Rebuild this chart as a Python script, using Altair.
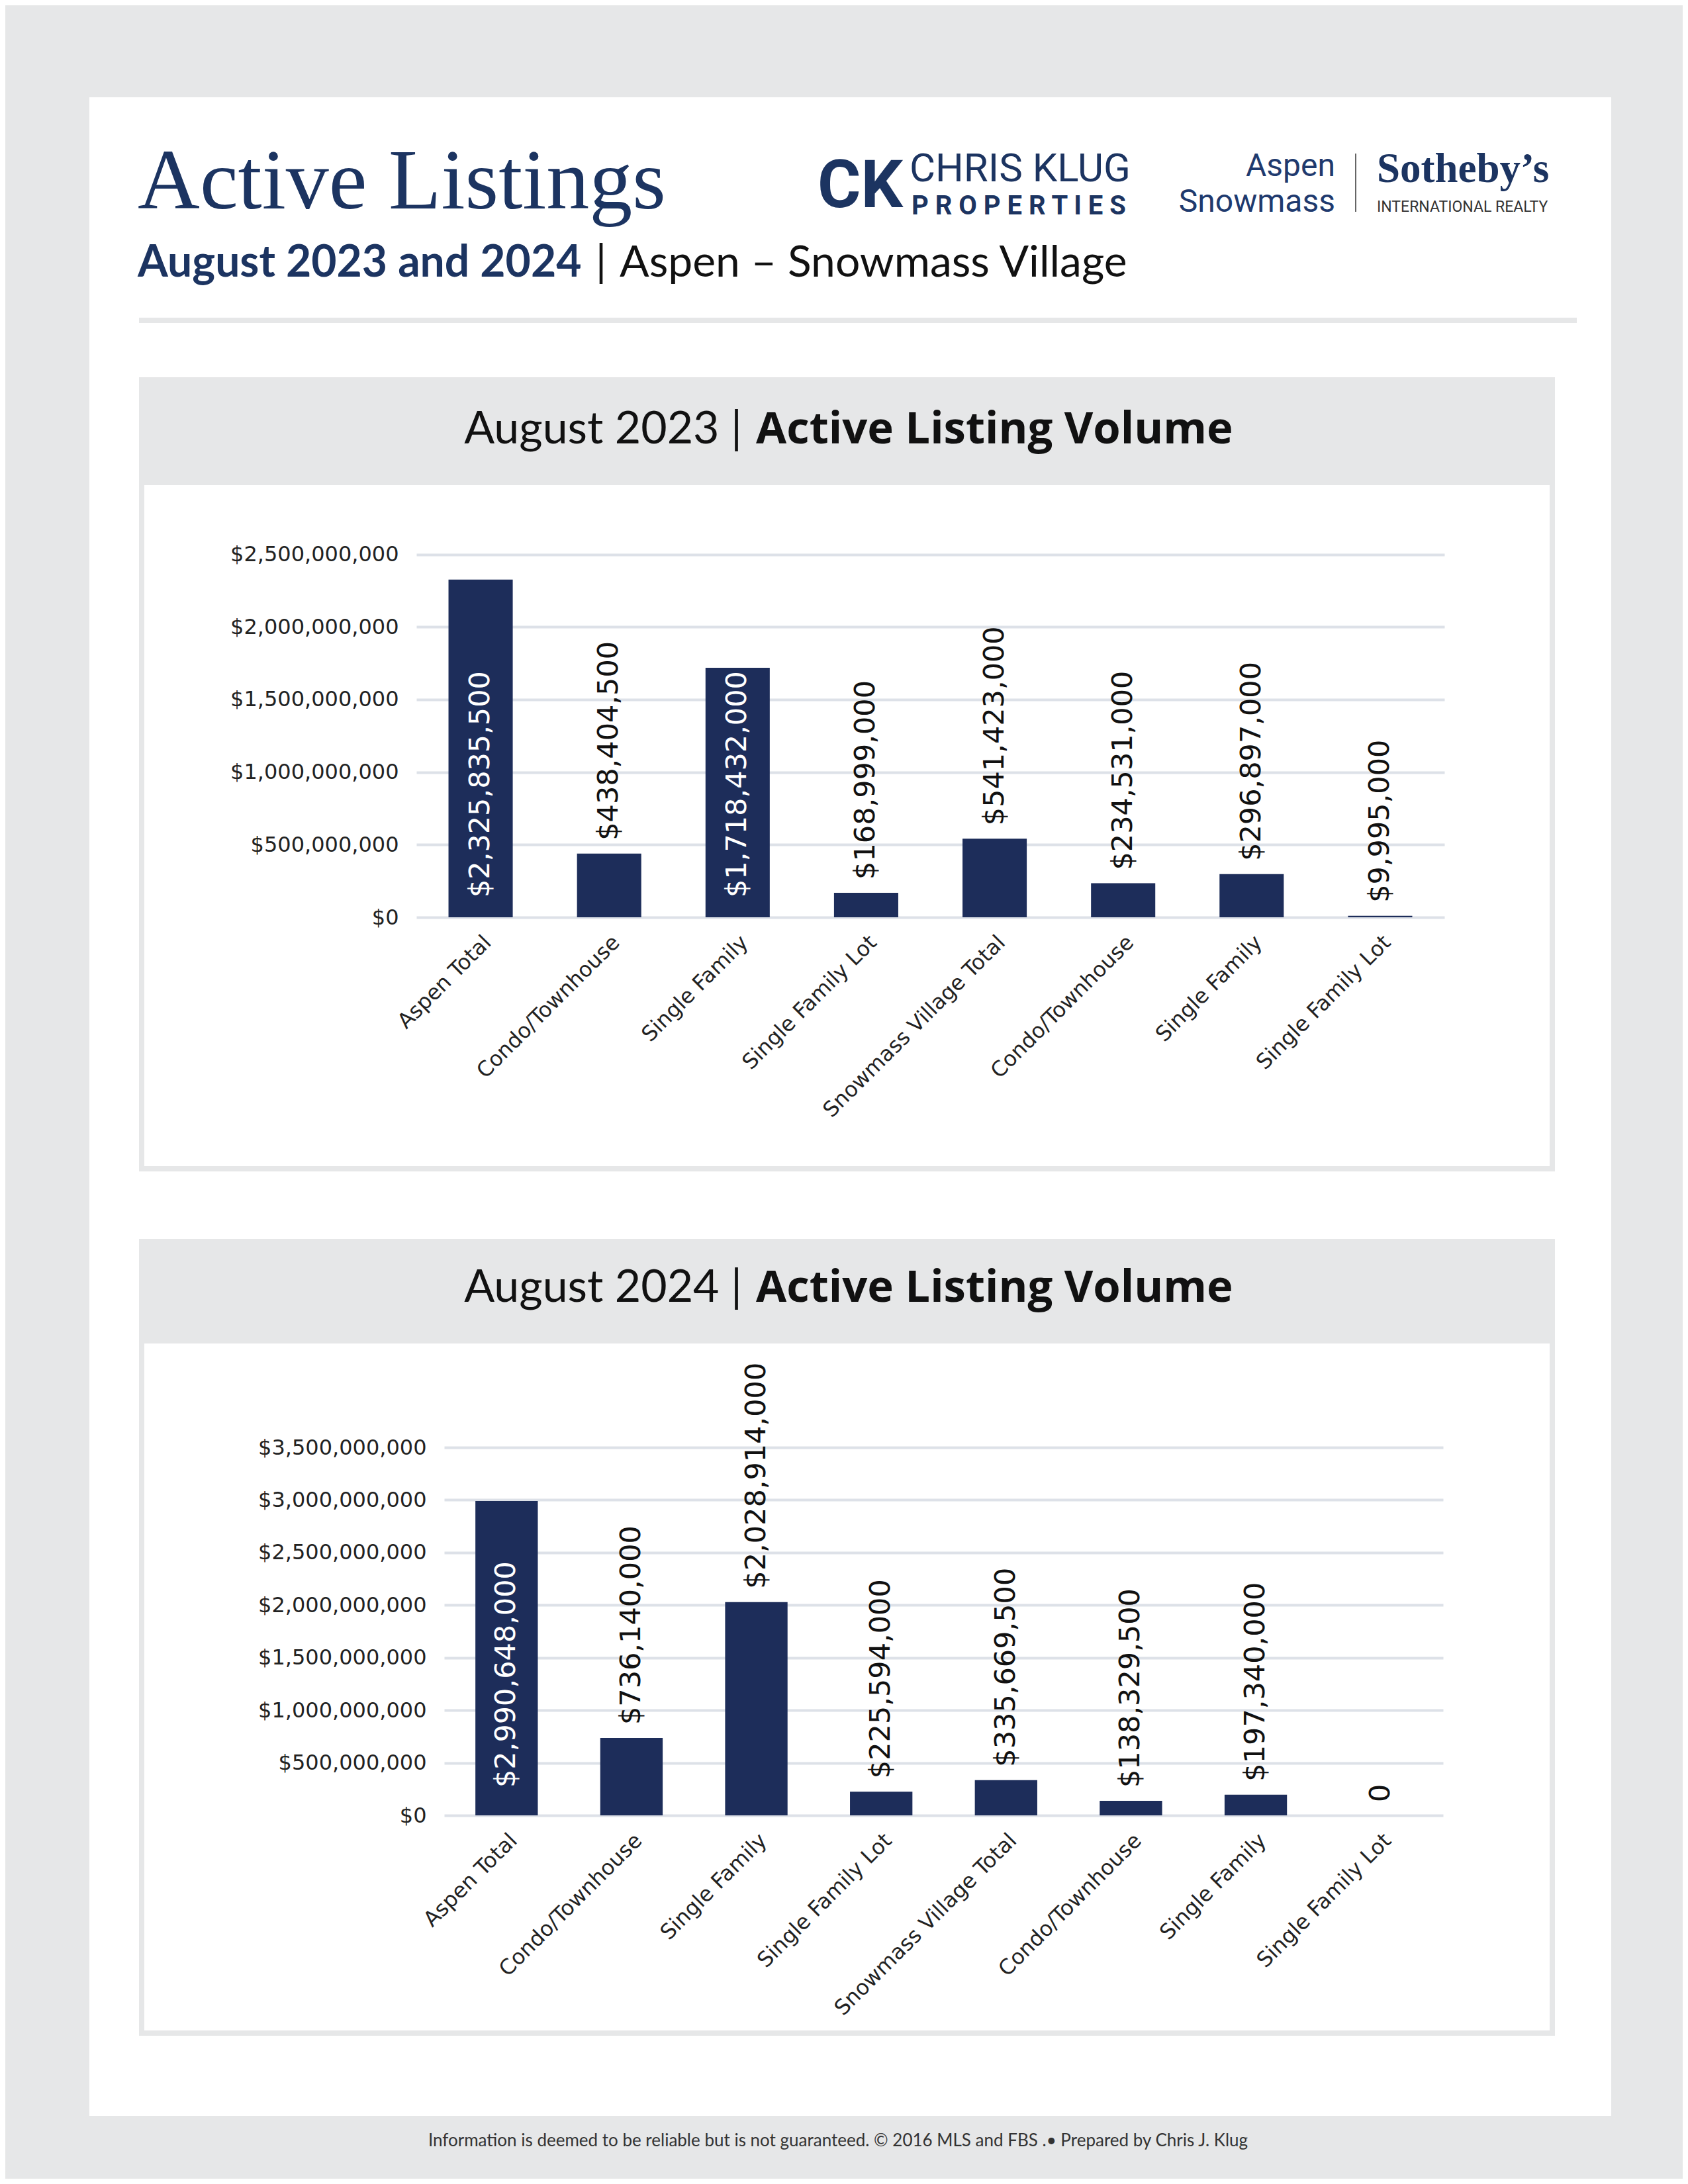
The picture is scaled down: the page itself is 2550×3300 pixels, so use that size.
import json
import altair as alt
import pandas as pd

# ---------------- data ----------------
categories = ["Aspen Total", "Condo/Townhouse", "Single Family", "Single Family Lot",
              "Snowmass Village Total", "Condo/Townhouse", "Single Family", "Single Family Lot"]
volume_2023 = [2325835500, 438404500, 1718432000, 168999000,
               541423000, 234531000, 296897000, 9995000]
volume_2024 = [2990648000, 736140000, 2028914000, 225594000,
               335669500, 138329500, 197340000, 0]
label_inside_2023 = [True, False, True, False, False, False, False, False]
label_inside_2024 = [True, False, False, False, False, False, False, False]
y_ticks_2023 = [0, 500000000, 1000000000, 1500000000, 2000000000, 2500000000]
y_ticks_2024 = [0, 500000000, 1000000000, 1500000000, 2000000000, 2500000000,
                3000000000, 3500000000]

page_title = "Active Listings"
subtitle_bold = "August 2023 and 2024"
subtitle_sep = "|"
subtitle_rest = "Aspen \u2013 Snowmass Village"
panel_titles = [("August 2023 |", "Active Listing Volume"),
                ("August 2024 |", "Active Listing Volume")]
footer_text = ("Information is deemed to be reliable but is not guaranteed. "
               "\u00a9 2016 MLS and FBS .\u2022 Prepared by Chris J. Klug")

# ---------------- style ----------------
GREY = "#e6e7e8"
NAVY = "#1c3461"
BAR = "#1d2d5a"
GRID = "#dde1e8"
SANS = "Lato"
DATA_FONT = "DejaVu Sans"
CARD_W = 2299

one = pd.DataFrame({"k": [0]})


def txt(text, x, y, size, font=SANS, weight="normal", color="#111111", align="left"):
    return alt.Chart(one).mark_text(
        text=text, font=font, fontSize=size, fontWeight=weight, color=color,
        align=align, baseline="alphabetic"
    ).encode(x=alt.value(x), y=alt.value(y))


def rect(x, x2, y, y2, **kw):
    return alt.Chart(one).mark_rect(**kw).encode(
        x=alt.value(x), x2=alt.value(x2), y=alt.value(y), y2=alt.value(y2))


# ---------------- header ----------------
header = alt.layer(
    txt(page_title, 73, 168, 130, font="Liberation Serif", color=NAVY),
    txt(subtitle_bold, 73, 271, 66, weight="bold", color=NAVY),
    txt(subtitle_sep, 773, 271, 66, color="#111111", align="center"),
    txt(subtitle_rest, 801, 271, 66, color="#111111"),
    alt.Chart(one).mark_rule(color=GREY, strokeWidth=8).encode(
        x=alt.value(75), x2=alt.value(2247), y=alt.value(337)),
    # Chris Klug Properties logo (text)
    txt("CK", 1100, 166, 100, font="Roboto", weight="bold", color=NAVY),
    txt("CHRIS KLUG", 1239, 127, 60, font="Roboto", color=NAVY),
    txt("P R O P E R T I E S", 1242, 177, 40, font="Roboto", weight="bold", color=NAVY),
    # Aspen Snowmass Sotheby's logo (text)
    txt("Aspen", 1882, 119, 48, font="Roboto", color="#1f3a6e", align="right"),
    txt("Snowmass", 1882, 173, 48, font="Roboto", color="#1f3a6e", align="right"),
    alt.Chart(one).mark_rule(color="#666666", strokeWidth=2).encode(
        x=alt.value(1913), y=alt.value(85), y2=alt.value(173)),
    txt("Sotheby\u2019s", 1945, 128, 63, font="Liberation Serif", weight="bold", color=NAVY),
    txt("INTERNATIONAL REALTY", 1945, 173, 23, font="Roboto", color="#333333"),
).properties(width=CARD_W, height=383,
             view=alt.ViewBackground(fill="white", strokeWidth=0))


# ---------------- panels ----------------
def panel(values, inside, ticks, titles, height, box_top, box_bottom, band_bottom,
          title_y, x_range, y_range, in_dx):
    labels = [f"${v:,}" if v else "0" for v in values]
    df = pd.DataFrame({"idx": list(range(len(categories))), "value": values,
                       "label": labels, "inside": inside,
                       "zero": [0] * len(values)})
    label_expr = json.dumps(categories) + "[datum.value]"
    x_axis = alt.Axis(orient="bottom", offset=y_range[0] - height, labelAngle=315,
                      labelAlign="right", labelBaseline="top", labelPadding=22,
                      labelFont=DATA_FONT, labelFontSize=32, labelColor="#222222",
                      labelLimit=1000, labelOverlap=False, ticks=False, domain=False,
                      grid=False, title=None, labelExpr=label_expr)
    y_axis = alt.Axis(orient="left", offset=-x_range[0], values=ticks,
                      labelExpr="'$' + format(datum.value, ',')", labelPadding=27,
                      labelFont=DATA_FONT, labelFontSize=32, labelColor="#222222",
                      labelLimit=1000, labelOverlap=False,
                      ticks=False, domain=False, grid=True, gridColor=GRID,
                      gridWidth=4, title=None)
    x_scale = alt.Scale(range=x_range, paddingInner=0.5, paddingOuter=0.25)
    y_scale = alt.Scale(domain=[0, ticks[-1]], range=y_range, nice=False, zero=True)
    X = alt.X("idx:O", scale=x_scale, axis=x_axis)
    base = alt.Chart(df)
    bars = base.mark_bar(color=BAR).encode(
        x=X, y=alt.Y("value:Q", scale=y_scale, axis=y_axis))
    out_lab = base.transform_filter("!datum.inside").mark_text(
        angle=270, align="left", baseline="middle", dx=20, font=DATA_FONT,
        fontSize=43, color="#111111"
    ).encode(x=X, y=alt.Y("value:Q", scale=y_scale, axis=y_axis), text="label:N")
    in_lab = base.transform_filter("datum.inside").mark_text(
        angle=270, align="left", baseline="middle", dx=in_dx, font=DATA_FONT,
        fontSize=43, color="white"
    ).encode(x=X, y=alt.Y("zero:Q", scale=y_scale, axis=y_axis), text="label:N")
    border = rect(79, 2210, box_top + 4, box_bottom - 4, fill="transparent",
                  stroke=GREY, strokeWidth=8)
    band = rect(75, 2214, box_top, band_bottom, fill=GREY)
    t1 = txt(titles[0], 986, title_y, 68, color="#111111", align="right")
    t2 = txt(titles[1], 1007, title_y, 67, font="Open Sans", weight="bold",
             color="#111111")
    return alt.layer(band, border, t1, t2, bars, out_lab, in_lab).properties(
        width=CARD_W, height=height,
        view=alt.ViewBackground(fill="white", strokeWidth=0))


panel1 = panel(volume_2023, label_inside_2023, y_ticks_2023, panel_titles[0],
               height=1300, box_top=40, box_bottom=1240, band_bottom=203,
               title_y=140, x_range=[494, 2047], y_range=[856, 307.5], in_dx=30)
panel2 = panel(volume_2024, label_inside_2024, y_ticks_2024, panel_titles[1],
               height=1367, box_top=42, box_bottom=1246, band_bottom=200,
               title_y=137, x_range=[536, 2045], y_range=[913, 357], in_dx=42)

footer = alt.layer(
    txt(footer_text, 1131, 46, 26, color="#333333", align="center"),
).properties(width=CARD_W, height=95,
             view=alt.ViewBackground(fill="transparent", strokeWidth=0))

chart = alt.vconcat(header, panel1, panel2, footer, spacing=0).properties(
    padding={"left": 127, "top": 139, "right": 108, "bottom": 0},
    background=GREY,
).configure_view(strokeWidth=0)

chart.save("out.html", embed_options={"renderer": "svg", "actions": False})
